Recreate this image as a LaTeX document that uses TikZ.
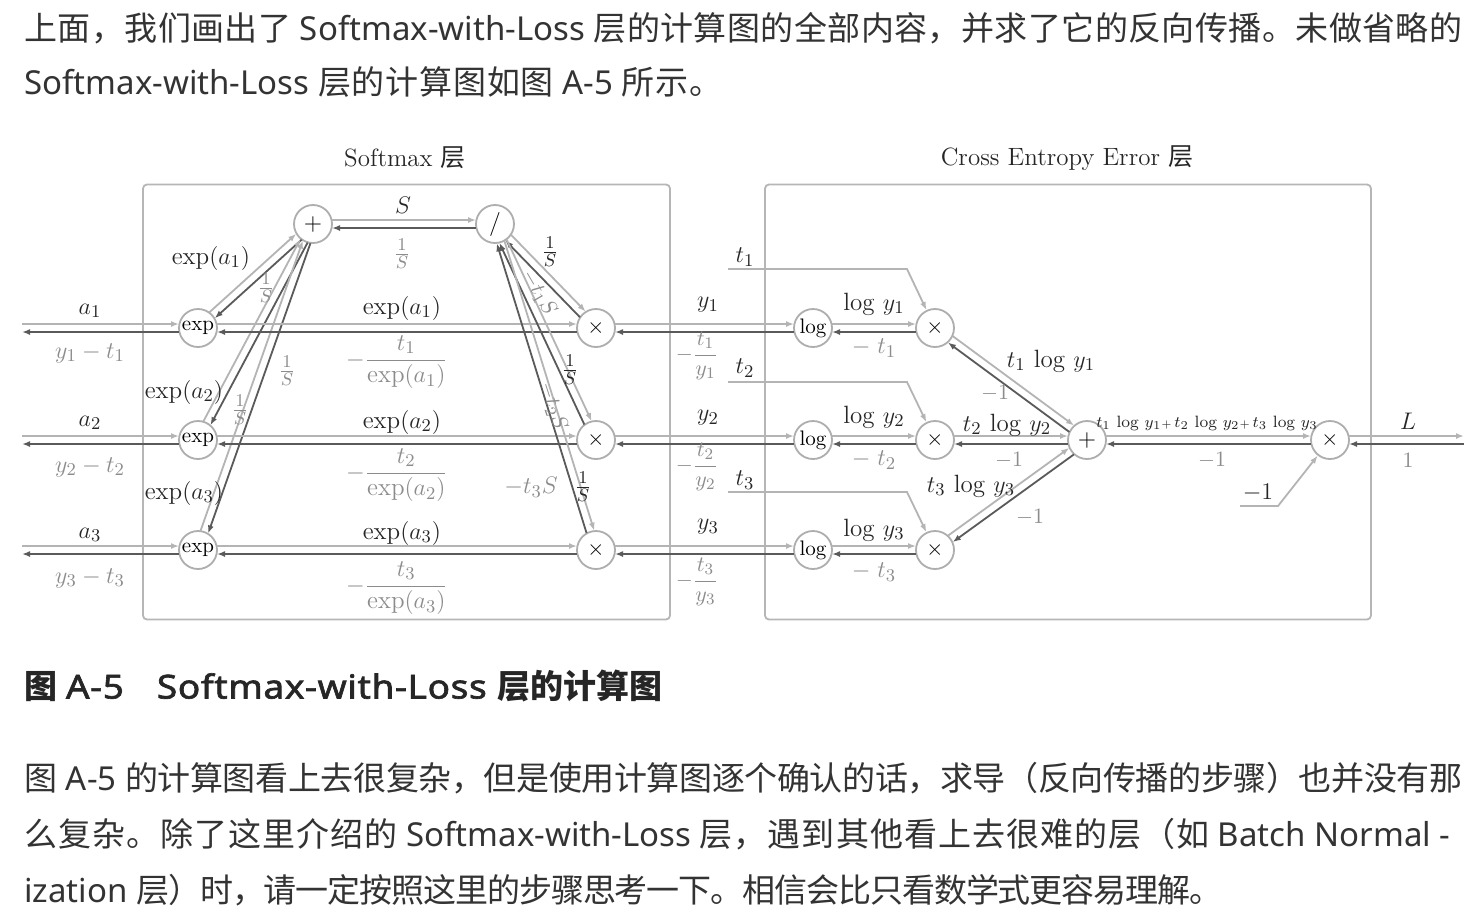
\documentclass[tikz,border=0pt]{standalone}
\usepackage{amsmath}
\usepackage{fontspec}
\usetikzlibrary{arrows.meta,calc}
\newfontfamily\cjkfont{Noto Sans CJK SC}
\newfontfamily\latfont{Noto Sans}
\newfontfamily\capfont{Noto Sans}[FakeBold=2,FakeStretch=1.12,LetterSpace=2]
\newcommand\zh[1]{{\cjkfont #1}}
\newcommand\bodyfont{\latfont\fontsize{16.5}{20}\selectfont}
% CJK run with flexible glue between its characters (for justified lines)
\def\spreadloop#1{\ifx#1\relax\else#1\hskip 0pt plus 1fil minus 1fil\expandafter\spreadloop\fi}
\newcommand\zj[1]{{\cjkfont\spreadloop#1\relax\unskip}}
\newcommand\jline[2]{\makebox[#1][s]{#2}}
\definecolor{fwline}{HTML}{B4B4B4}
\definecolor{bwline}{HTML}{5A5A5A}
\definecolor{ring}{HTML}{AEAEAE}
\definecolor{framec}{HTML}{B6B6B6}
\definecolor{fwtext}{HTML}{262626}
\definecolor{bwtext}{HTML}{8C8C8C}
\definecolor{bodyc}{HTML}{333333}
% radius of an operation circle and half the gap between the two lanes
\newcommand\noderad{9.5pt}
\newcommand\laneoff{2pt}
% forward lane (light, A -> B) and backward lane (dark, B -> A)
\newcommand\lanes[4]{%
  \draw[fw] ($(#1)!#3!(#2)!\laneoff!90:(#2)$) -- ($(#2)!#4!(#1)!\laneoff!-90:(#1)$);
  \draw[bw] ($(#2)!#4!(#1)!\laneoff!90:(#1)$) -- ($(#1)!#3!(#2)!\laneoff!-90:(#2)$);}
\begin{document}
\begin{tikzpicture}[x=0.5pt,y=-0.5pt,
  op/.style={circle,draw=ring,line width=0.9pt,minimum size=19pt,inner sep=0pt,fill=white,font=\fontsize{10.5}{12}\selectfont},
  fw/.style={draw=fwline,line width=0.9pt,-{Latex[length=4pt,width=3pt]}},
  bw/.style={draw=bwline,line width=0.9pt,-{Latex[length=4pt,width=3pt]}},
  fwin/.style={draw=fwline,line width=0.9pt,-{Latex[length=4pt,width=3pt]}},
  fl/.style={text=fwtext,inner sep=1pt,font=\fontsize{12.5}{15}\selectfont},
  bl/.style={text=bwtext,inner sep=1pt,font=\fontsize{12.5}{15}\selectfont},
  small/.style={font=\fontsize{11}{13}\selectfont},
  layerbox/.style={draw=framec,line width=0.9pt,rounded corners=2pt,inner sep=0pt},
  para/.style={anchor=base west,inner sep=0pt,text=bodyc,font=\bodyfont}
]
\useasboundingbox (0,0) rectangle (1480,918);
\fill[white] (0,0) rectangle (1480,918);

% ---- surrounding text
\node[para] (p1) at (24,40) {\jline{719pt}{\zj{上面，我们画出了} Softmax-with-Loss \zj{层的计算图的全部内容，并求了它的反向传播。未做省略的}}};
\node[para] (p2) at (24,94.5) {\jline{349pt}{Softmax-with-Loss \zj{层的计算图如图} A-5 \zj{所示。}}};
\node[para,text=black!85] (cap) at (24,698.5) {\bfseries\zh{图} \capfont A-5\quad Softmax-with-Loss \zh{层的计算图}};
\node[para] (q1) at (24,790.5) {\jline{719pt}{\zj{图} A-5 \zj{的计算图看上去很复杂，但是使用计算图逐个确认的话，求导（反向传播的步骤）也并没有那}}};
\node[para] (q2) at (24,846.5) {\jline{713pt}{\zj{么复杂。除了这里介绍的} Softmax-with-Loss \zj{层，遇到其他看上去很难的层（如} Batch Normal -}};
\node[para] (q3) at (24,902.5) {\jline{599pt}{ization \zj{层）时，请一定按照这里的步骤思考一下。相信会比只看数学式更容易理解。}}};

% ---- layer frames and titles
\node[layerbox,minimum width=263.5pt,minimum height=217.5pt] (smbox) at (406.5,402) {};
\node[layerbox,minimum width=303pt,minimum height=217.5pt] (cebox) at (1068,402) {};
\node[fl] (smtitle) at (405,158) {Softmax \zh{层}};
\node[fl] (cetitle) at (1067,158) {Cross Entropy Error \zh{层}};

% ---- operation nodes
\node[op] (exp1) at (198,328) {exp};
\node[op] (exp2) at (198,440) {exp};
\node[op] (exp3) at (198,550) {exp};
\node[op,font=\fontsize{13}{14}\selectfont] (plus) at (313,224) {$+$};
\node[op,font=\fontsize{12}{14}\selectfont] (div) at (495,224) {$/$};
\node[op] (mul1) at (596,328) {$\times$};
\node[op] (mul2) at (596,440) {$\times$};
\node[op] (mul3) at (596,550) {$\times$};
\node[op] (log1) at (813,328) {log};
\node[op] (log2) at (813,440) {log};
\node[op] (log3) at (813,550) {log};
\node[op] (m1) at (935,328) {$\times$};
\node[op] (m2) at (935,440) {$\times$};
\node[op] (m3) at (935,550) {$\times$};
\node[op,font=\fontsize{13}{14}\selectfont] (sum) at (1087,440) {$+$};
\node[op] (fin) at (1330,440) {$\times$};

% free ends
\coordinate (in1) at (22,328);
\coordinate (in2) at (22,440);
\coordinate (in3) at (22,550);
\coordinate (out) at (1464,440);
\coordinate (t1s) at (728,269);
\coordinate (t1c) at (907,269);
\coordinate (t2s) at (728,382);
\coordinate (t2c) at (907,382);
\coordinate (t3s) at (728,492);
\coordinate (t3c) at (907,492);
\coordinate (cs) at (1240,506);
\coordinate (cc) at (1278,506);

% ---- connectors
\lanes{in1}{exp1}{0pt}{\noderad}
\lanes{in2}{exp2}{0pt}{\noderad}
\lanes{in3}{exp3}{0pt}{\noderad}
\lanes{exp1}{plus}{\noderad}{\noderad}
\lanes{exp2}{plus}{\noderad}{\noderad}
\lanes{exp3}{plus}{\noderad}{\noderad}
\lanes{exp1}{mul1}{\noderad}{\noderad}
\lanes{exp2}{mul2}{\noderad}{\noderad}
\lanes{exp3}{mul3}{\noderad}{\noderad}
\lanes{plus}{div}{\noderad}{\noderad}
\lanes{div}{mul1}{\noderad}{\noderad}
\lanes{div}{mul2}{\noderad}{\noderad}
\lanes{div}{mul3}{\noderad}{\noderad}
\lanes{mul1}{log1}{\noderad}{\noderad}
\lanes{mul2}{log2}{\noderad}{\noderad}
\lanes{mul3}{log3}{\noderad}{\noderad}
\lanes{log1}{m1}{\noderad}{\noderad}
\lanes{log2}{m2}{\noderad}{\noderad}
\lanes{log3}{m3}{\noderad}{\noderad}
\lanes{m1}{sum}{\noderad}{\noderad}
\lanes{m2}{sum}{\noderad}{\noderad}
\lanes{m3}{sum}{\noderad}{\noderad}
\lanes{sum}{fin}{\noderad}{\noderad}
\lanes{fin}{out}{\noderad}{0pt}
\draw[fwin] (t1s) -- (t1c) -- (m1);
\draw[fwin] (t2s) -- (t2c) -- (m2);
\draw[fwin] (t3s) -- (t3c) -- (m3);
\draw[fwin] (cs) -- (cc) -- (fin);

% ---- forward values
\node[fl] (la1) at (90,311) {$a_1$};
\node[fl] (la2) at (90,423) {$a_2$};
\node[fl] (la3) at (90,535) {$a_3$};
\node[fl] (lea1) at (211,258) {$\exp(a_1)$};
\node[fl] (lea2) at (184,392) {$\exp(a_2)$};
\node[fl] (lea3) at (184,493) {$\exp(a_3)$};
\node[fl] (leh1) at (402,308) {$\exp(a_1)$};
\node[fl] (leh2) at (402,422) {$\exp(a_2)$};
\node[fl] (leh3) at (402,533) {$\exp(a_3)$};
\node[fl] (lS) at (403,205) {$S$};
\node[fl] (ld1) at (550,252) {$\frac{1}{S}$};
\node[fl] (ld2) at (570,370) {$\frac{1}{S}$};
\node[fl] (ld3) at (583,487) {$\frac{1}{S}$};
\node[fl] (ly1) at (708,305) {$y_1$};
\node[fl] (ly2) at (708,418) {$y_2$};
\node[fl] (ly3) at (708,527) {$y_3$};
\node[fl] (lt1) at (745,257) {$t_1$};
\node[fl] (lt2) at (745,368) {$t_2$};
\node[fl] (lt3) at (745,480) {$t_3$};
\node[fl] (lg1) at (874,304) {log $y_1$};
\node[fl] (lg2) at (874,417) {log $y_2$};
\node[fl] (lg3) at (874,530) {log $y_3$};
\node[fl] (lp1) at (1051,361) {$t_1$ log $y_1$};
\node[fl] (lp2) at (1007,425) {$t_2$ log $y_2$};
\node[fl] (lp3) at (971,486) {$t_3$ log $y_3$};
\node[fl,font=\fontsize{8.2}{10}\selectfont] (lsum) at (1207,423) {$t_1$ log $y_1 {\scriptscriptstyle +}\, t_2$ log $y_2 {\scriptscriptstyle +}\, t_3$ log $y_3$};
\node[fl] (lc) at (1258,493) {$-1$};
\node[fl] (lL) at (1408,421) {$L$};

% ---- backward values
\node[bl] (lb1) at (90,353) {$y_1-t_1$};
\node[bl] (lb2) at (90,467) {$y_2-t_2$};
\node[bl] (lb3) at (90,578) {$y_3-t_3$};
\node[bl] (lu1) at (266,288) {$\frac{1}{S}$};
\node[bl] (lu2) at (240,410) {$\frac{1}{S}$};
\node[bl] (lu3) at (287,371) {$\frac{1}{S}$};
\node[bl] (lSb) at (402,254) {$\frac{1}{S}$};
\node[bl] (lq1) at (397,362) {$-\dfrac{t_1}{\exp(a_1)}$};
\node[bl] (lq2) at (397,475) {$-\dfrac{t_2}{\exp(a_2)}$};
\node[bl] (lq3) at (397,588) {$-\dfrac{t_3}{\exp(a_3)}$};
\node[bl,small,rotate=-60,inner sep=0pt] (lr1) at (539,293) {$-t_1S$};
\node[bl,small,rotate=-72,inner sep=0pt] (lr2) at (553,406) {$-t_2S$};
\node[bl] (lr3) at (531,487) {$-t_3S$};
\node[bl,small] (lw1) at (697,356) {$-\dfrac{t_1}{y_1}$};
\node[bl,small] (lw2) at (697,467) {$-\dfrac{t_2}{y_2}$};
\node[bl,small] (lw3) at (697,582) {$-\dfrac{t_3}{y_3}$};
\node[bl] (ln1) at (874,348) {$-\;t_1$};
\node[bl] (ln2) at (874,460) {$-\;t_2$};
\node[bl] (ln3) at (874,572) {$-\;t_3$};
\node[bl,small] (lo1) at (995,393) {$-1$};
\node[bl,small] (lo2) at (1009,460) {$-1$};
\node[bl,small] (lo3) at (1030,517) {$-1$};
\node[bl,small] (lo4) at (1212,460) {$-1$};
\node[bl,small] (l1) at (1408,460) {$1$};
\end{tikzpicture}
\end{document}
